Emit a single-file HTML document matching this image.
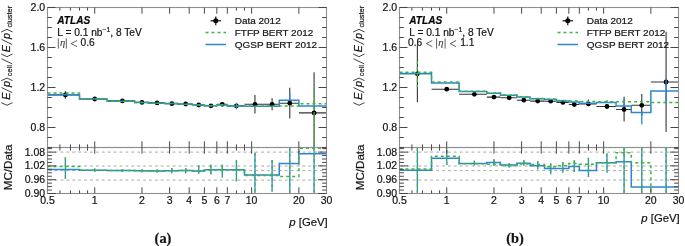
<!DOCTYPE html>
<html><head><meta charset="utf-8"><style>
html,body{margin:0;padding:0;background:#fff;}
body{width:685px;height:246px;overflow:hidden;font-family:"Liberation Sans",sans-serif;}
svg{display:block;will-change:transform;}
text{stroke:#222;stroke-width:0.22px;}
</style></head><body>
<svg width="685" height="246" viewBox="0 0 685 246" font-family="Liberation Sans, sans-serif">
<rect width="685" height="246" fill="#fff"/>
<clipPath id="cua"><rect x="47.5" y="7.5" width="279" height="140"/></clipPath>
<clipPath id="cla"><rect x="47.5" y="147.5" width="279" height="46"/></clipPath>
<line x1="47.5" y1="152.1" x2="326.5" y2="152.1" stroke="#aaa" stroke-width="1" stroke-dasharray="2.9 3" stroke-dashoffset="4.7"/>
<line x1="47.5" y1="166.0" x2="326.5" y2="166.0" stroke="#aaa" stroke-width="1" stroke-dasharray="2.9 3" stroke-dashoffset="4.7"/>
<line x1="47.5" y1="170.6" x2="326.5" y2="170.6" stroke="#aaa" stroke-width="1" stroke-dasharray="2.9 3" stroke-dashoffset="4.7"/>
<line x1="47.5" y1="180.1" x2="326.5" y2="180.1" stroke="#aaa" stroke-width="1" stroke-dasharray="2.9 3" stroke-dashoffset="4.7"/>
<g clip-path="url(#cua)" stroke="#353535" stroke-width="1.1"><line x1="47.5" y1="95" x2="79.53" y2="95"/><line x1="65.38" y1="91.1" x2="65.38" y2="98.7"/><line x1="79.53" y1="99" x2="107.16" y2="99"/><line x1="107.16" y1="100.9" x2="134.79" y2="100.9"/><line x1="134.79" y1="102.4" x2="148.46" y2="102.4"/><line x1="148.46" y1="102.9" x2="164.89" y2="102.9"/><line x1="164.89" y1="103.7" x2="178.12" y2="103.7"/><line x1="178.12" y1="104" x2="192.52" y2="104"/><line x1="192.52" y1="105" x2="204.4" y2="105"/><line x1="204.4" y1="105.8" x2="216.83" y2="105.8"/><line x1="216.83" y1="104.3" x2="227.33" y2="104.3"/><line x1="227.33" y1="105.9" x2="244.46" y2="105.9"/><line x1="244.46" y1="104.3" x2="264.06" y2="104.3"/><line x1="254.96" y1="95.1" x2="254.96" y2="113.6"/><line x1="264.06" y1="104.3" x2="279.27" y2="104.3"/><line x1="272.09" y1="98.3" x2="272.09" y2="110.2"/><line x1="279.27" y1="103.2" x2="298.87" y2="103.2"/><line x1="289.77" y1="87.7" x2="289.77" y2="118.4"/><line x1="298.87" y1="112.9" x2="326.5" y2="112.9"/><line x1="314.08" y1="72.3" x2="314.08" y2="147.3"/></g>
<g fill="#000"><circle cx="65.38" cy="95" r="2.4"/><circle cx="94.73" cy="99" r="2.4"/><circle cx="122.36" cy="100.9" r="2.4"/><circle cx="141.97" cy="102.4" r="2.4"/><circle cx="157.17" cy="102.9" r="2.4"/><circle cx="171.83" cy="103.7" r="2.4"/><circle cx="185.7" cy="104" r="2.4"/><circle cx="198.72" cy="105" r="2.4"/><circle cx="210.9" cy="105.8" r="2.4"/><circle cx="222.28" cy="104.3" r="2.4"/><circle cx="236.43" cy="105.9" r="2.4"/><circle cx="254.96" cy="104.3" r="2.4"/><circle cx="272.09" cy="104.3" r="2.4"/><circle cx="289.77" cy="103.2" r="2.4"/><circle cx="314.08" cy="112.9" r="2.4"/></g>
<g clip-path="url(#cua)" fill="none">
<path d="M47.5 94.7 L79.53 94.7 L79.53 99.1 L107.16 99.1 L107.16 101.2 L134.79 101.2 L134.79 102.5 L148.46 102.5 L148.46 103.2 L164.89 103.2 L164.89 103.5 L178.12 103.5 L178.12 104.2 L192.52 104.2 L192.52 105 L204.4 105 L204.4 105.7 L216.83 105.7 L216.83 105.1 L227.33 105.1 L227.33 106.1 L244.46 106.1 L244.46 106.2 L264.06 106.2 L264.06 106.3 L279.27 106.3 L279.27 100.3 L298.87 100.3 L298.87 106.1 L326.5 106.1" stroke="#2f86cf" stroke-width="1.5"/>
<line x1="236.43" y1="102.7" x2="236.43" y2="109.3" stroke="#2f86cf" stroke-width="1.3"/>
<line x1="289.77" y1="93.7" x2="289.77" y2="100.3" stroke="#2f86cf" stroke-width="1.3"/>
<path d="M47.5 92.9 L79.53 92.9 L79.53 99.1 L107.16 99.1 L107.16 101.2 L134.79 101.2 L134.79 102.5 L148.46 102.5 L148.46 103.2 L164.89 103.2 L164.89 103.5 L178.12 103.5 L178.12 104.2 L192.52 104.2 L192.52 105 L204.4 105 L204.4 105.7 L216.83 105.7 L216.83 105.1 L227.33 105.1 L227.33 106.1 L244.46 106.1 L244.46 106.2 L264.06 106.2 L264.06 105.9 L279.27 105.9 L279.27 105.9 L298.87 105.9 L298.87 103.7 L326.5 103.7" stroke="#3db53d" stroke-width="1.5" stroke-dasharray="3 3"/>
<line x1="314.08" y1="88.0" x2="314.08" y2="147.3" stroke="#3db53d" stroke-width="1.3" stroke-dasharray="3 3"/>
</g>
<g clip-path="url(#cla)" fill="none">
<path d="M47.5 169.6 L79.53 169.6 L79.53 170.3 L107.16 170.3 L107.16 170.4 L134.79 170.4 L134.79 170.8 L148.46 170.8 L148.46 171 L164.89 171 L164.89 170.8 L178.12 170.8 L178.12 170.6 L192.52 170.6 L192.52 171 L204.4 171 L204.4 169.8 L216.83 169.8 L216.83 169.8 L227.33 169.8 L227.33 169.8 L244.46 169.8 L244.46 175.1 L264.06 175.1 L264.06 175.1 L279.27 175.1 L279.27 163.4 L298.87 163.4 L298.87 153.8 L326.5 153.8" stroke="#2f86cf" stroke-width="1.5"/>
<line x1="65.38" y1="157.2" x2="65.38" y2="179.1" stroke="#2f86cf" stroke-width="1.3"/>
<line x1="94.73" y1="168.5" x2="94.73" y2="172.0" stroke="#2f86cf" stroke-width="1.3"/>
<line x1="122.36" y1="169.0" x2="122.36" y2="172.0" stroke="#2f86cf" stroke-width="1.3"/>
<line x1="141.97" y1="169.3" x2="141.97" y2="172.3" stroke="#2f86cf" stroke-width="1.3"/>
<line x1="157.17" y1="169.5" x2="157.17" y2="172.5" stroke="#2f86cf" stroke-width="1.3"/>
<line x1="171.83" y1="168.0" x2="171.83" y2="173.5" stroke="#2f86cf" stroke-width="1.3"/>
<line x1="185.7" y1="168.0" x2="185.7" y2="173.5" stroke="#2f86cf" stroke-width="1.3"/>
<line x1="198.72" y1="165.3" x2="198.72" y2="173.5" stroke="#2f86cf" stroke-width="1.3"/>
<line x1="210.9" y1="164.7" x2="210.9" y2="174.5" stroke="#2f86cf" stroke-width="1.3"/>
<line x1="222.28" y1="164.7" x2="222.28" y2="177.6" stroke="#2f86cf" stroke-width="1.3"/>
<line x1="236.43" y1="160.3" x2="236.43" y2="181.2" stroke="#2f86cf" stroke-width="1.3"/>
<line x1="254.96" y1="152.7" x2="254.96" y2="193.6" stroke="#2f86cf" stroke-width="1.3"/>
<line x1="272.09" y1="160.1" x2="272.09" y2="191.5" stroke="#2f86cf" stroke-width="1.3"/>
<line x1="289.77" y1="147.8" x2="289.77" y2="193.6" stroke="#2f86cf" stroke-width="1.3"/>
<line x1="314.08" y1="147.3" x2="314.08" y2="193.6" stroke="#2f86cf" stroke-width="1.3"/>
<path d="M47.5 166.4 L79.53 166.4 L79.53 170.3 L107.16 170.3 L107.16 170.4 L134.79 170.4 L134.79 170.8 L148.46 170.8 L148.46 171 L164.89 171 L164.89 170.8 L178.12 170.8 L178.12 170.6 L192.52 170.6 L192.52 171 L204.4 171 L204.4 169.8 L216.83 169.8 L216.83 169.8 L227.33 169.8 L227.33 169.8 L244.46 169.8 L244.46 175.4 L264.06 175.4 L264.06 175.4 L279.27 175.4 L279.27 176.5 L298.87 176.5 L298.87 148.3 L326.5 148.3" stroke="#3db53d" stroke-width="1.5" stroke-dasharray="3 3"/>
<line x1="65.38" y1="157.2" x2="65.38" y2="179.1" stroke="#3db53d" stroke-width="1.3" stroke-dasharray="3 3"/>
<line x1="94.73" y1="168.5" x2="94.73" y2="172.0" stroke="#3db53d" stroke-width="1.3" stroke-dasharray="3 3"/>
<line x1="122.36" y1="169.0" x2="122.36" y2="172.0" stroke="#3db53d" stroke-width="1.3" stroke-dasharray="3 3"/>
<line x1="141.97" y1="169.3" x2="141.97" y2="172.3" stroke="#3db53d" stroke-width="1.3" stroke-dasharray="3 3"/>
<line x1="157.17" y1="169.5" x2="157.17" y2="172.5" stroke="#3db53d" stroke-width="1.3" stroke-dasharray="3 3"/>
<line x1="171.83" y1="168.0" x2="171.83" y2="173.5" stroke="#3db53d" stroke-width="1.3" stroke-dasharray="3 3"/>
<line x1="185.7" y1="168.0" x2="185.7" y2="173.5" stroke="#3db53d" stroke-width="1.3" stroke-dasharray="3 3"/>
<line x1="198.72" y1="165.3" x2="198.72" y2="173.5" stroke="#3db53d" stroke-width="1.3" stroke-dasharray="3 3"/>
<line x1="210.9" y1="164.7" x2="210.9" y2="174.5" stroke="#3db53d" stroke-width="1.3" stroke-dasharray="3 3"/>
<line x1="222.28" y1="164.7" x2="222.28" y2="177.6" stroke="#3db53d" stroke-width="1.3" stroke-dasharray="3 3"/>
<line x1="236.43" y1="160.3" x2="236.43" y2="181.2" stroke="#3db53d" stroke-width="1.3" stroke-dasharray="3 3"/>
<line x1="254.96" y1="152.7" x2="254.96" y2="193.6" stroke="#3db53d" stroke-width="1.3" stroke-dasharray="3 3"/>
<line x1="272.09" y1="160.1" x2="272.09" y2="191.5" stroke="#3db53d" stroke-width="1.3" stroke-dasharray="3 3"/>
<line x1="289.77" y1="147.8" x2="289.77" y2="193.6" stroke="#3db53d" stroke-width="1.3" stroke-dasharray="3 3"/>
<line x1="314.08" y1="147.3" x2="314.08" y2="193.6" stroke="#3db53d" stroke-width="1.3" stroke-dasharray="3 3"/>
</g>
<g stroke="#8f8f8f" stroke-width="1.1" fill="none"><rect x="47.5" y="7.5" width="279" height="140"/><rect x="47.5" y="147.5" width="279" height="46"/></g>
<g stroke="#474747" stroke-width="1" fill="none"><line x1="94.73" y1="7.5" x2="94.73" y2="13.7"/><line x1="94.73" y1="147.5" x2="94.73" y2="141.3"/><line x1="94.73" y1="147.5" x2="94.73" y2="153.7"/><line x1="94.73" y1="193.5" x2="94.73" y2="187.3"/><line x1="141.97" y1="7.5" x2="141.97" y2="13.7"/><line x1="141.97" y1="147.5" x2="141.97" y2="141.3"/><line x1="141.97" y1="147.5" x2="141.97" y2="153.7"/><line x1="141.97" y1="193.5" x2="141.97" y2="187.3"/><line x1="169.6" y1="7.5" x2="169.6" y2="13.7"/><line x1="169.6" y1="147.5" x2="169.6" y2="141.3"/><line x1="169.6" y1="147.5" x2="169.6" y2="153.7"/><line x1="169.6" y1="193.5" x2="169.6" y2="187.3"/><line x1="189.2" y1="7.5" x2="189.2" y2="13.7"/><line x1="189.2" y1="147.5" x2="189.2" y2="141.3"/><line x1="189.2" y1="147.5" x2="189.2" y2="153.7"/><line x1="189.2" y1="193.5" x2="189.2" y2="187.3"/><line x1="204.4" y1="7.5" x2="204.4" y2="13.7"/><line x1="204.4" y1="147.5" x2="204.4" y2="141.3"/><line x1="204.4" y1="147.5" x2="204.4" y2="153.7"/><line x1="204.4" y1="193.5" x2="204.4" y2="187.3"/><line x1="216.83" y1="7.5" x2="216.83" y2="13.7"/><line x1="216.83" y1="147.5" x2="216.83" y2="141.3"/><line x1="216.83" y1="147.5" x2="216.83" y2="153.7"/><line x1="216.83" y1="193.5" x2="216.83" y2="187.3"/><line x1="227.33" y1="7.5" x2="227.33" y2="13.7"/><line x1="227.33" y1="147.5" x2="227.33" y2="141.3"/><line x1="227.33" y1="147.5" x2="227.33" y2="153.7"/><line x1="227.33" y1="193.5" x2="227.33" y2="187.3"/><line x1="251.64" y1="7.5" x2="251.64" y2="13.7"/><line x1="251.64" y1="147.5" x2="251.64" y2="141.3"/><line x1="251.64" y1="147.5" x2="251.64" y2="153.7"/><line x1="251.64" y1="193.5" x2="251.64" y2="187.3"/><line x1="298.87" y1="7.5" x2="298.87" y2="13.7"/><line x1="298.87" y1="147.5" x2="298.87" y2="141.3"/><line x1="298.87" y1="147.5" x2="298.87" y2="153.7"/><line x1="298.87" y1="193.5" x2="298.87" y2="187.3"/><line x1="59.92" y1="7.5" x2="59.92" y2="10.6"/><line x1="59.92" y1="147.5" x2="59.92" y2="144.4"/><line x1="59.92" y1="147.5" x2="59.92" y2="150.6"/><line x1="59.92" y1="193.5" x2="59.92" y2="190.4"/><line x1="70.43" y1="7.5" x2="70.43" y2="10.6"/><line x1="70.43" y1="147.5" x2="70.43" y2="144.4"/><line x1="70.43" y1="147.5" x2="70.43" y2="150.6"/><line x1="70.43" y1="193.5" x2="70.43" y2="190.4"/><line x1="79.53" y1="7.5" x2="79.53" y2="10.6"/><line x1="79.53" y1="147.5" x2="79.53" y2="144.4"/><line x1="79.53" y1="147.5" x2="79.53" y2="150.6"/><line x1="79.53" y1="193.5" x2="79.53" y2="190.4"/><line x1="87.55" y1="7.5" x2="87.55" y2="10.6"/><line x1="87.55" y1="147.5" x2="87.55" y2="144.4"/><line x1="87.55" y1="147.5" x2="87.55" y2="150.6"/><line x1="87.55" y1="193.5" x2="87.55" y2="190.4"/><line x1="236.43" y1="7.5" x2="236.43" y2="10.6"/><line x1="236.43" y1="147.5" x2="236.43" y2="144.4"/><line x1="236.43" y1="147.5" x2="236.43" y2="150.6"/><line x1="236.43" y1="193.5" x2="236.43" y2="190.4"/><line x1="244.46" y1="7.5" x2="244.46" y2="10.6"/><line x1="244.46" y1="147.5" x2="244.46" y2="144.4"/><line x1="244.46" y1="147.5" x2="244.46" y2="150.6"/><line x1="244.46" y1="193.5" x2="244.46" y2="190.4"/><line x1="47.5" y1="7.5" x2="55.5" y2="7.5"/><line x1="326.5" y1="7.5" x2="318.5" y2="7.5"/><line x1="47.5" y1="17.5" x2="51.8" y2="17.5"/><line x1="326.5" y1="17.5" x2="322.2" y2="17.5"/><line x1="47.5" y1="27.5" x2="51.8" y2="27.5"/><line x1="326.5" y1="27.5" x2="322.2" y2="27.5"/><line x1="47.5" y1="37.5" x2="51.8" y2="37.5"/><line x1="326.5" y1="37.5" x2="322.2" y2="37.5"/><line x1="47.5" y1="47.5" x2="55.5" y2="47.5"/><line x1="326.5" y1="47.5" x2="318.5" y2="47.5"/><line x1="47.5" y1="57.5" x2="51.8" y2="57.5"/><line x1="326.5" y1="57.5" x2="322.2" y2="57.5"/><line x1="47.5" y1="67.5" x2="51.8" y2="67.5"/><line x1="326.5" y1="67.5" x2="322.2" y2="67.5"/><line x1="47.5" y1="77.5" x2="51.8" y2="77.5"/><line x1="326.5" y1="77.5" x2="322.2" y2="77.5"/><line x1="47.5" y1="87.5" x2="55.5" y2="87.5"/><line x1="326.5" y1="87.5" x2="318.5" y2="87.5"/><line x1="47.5" y1="97.5" x2="51.8" y2="97.5"/><line x1="326.5" y1="97.5" x2="322.2" y2="97.5"/><line x1="47.5" y1="107.5" x2="51.8" y2="107.5"/><line x1="326.5" y1="107.5" x2="322.2" y2="107.5"/><line x1="47.5" y1="117.5" x2="51.8" y2="117.5"/><line x1="326.5" y1="117.5" x2="322.2" y2="117.5"/><line x1="47.5" y1="127.5" x2="55.5" y2="127.5"/><line x1="326.5" y1="127.5" x2="318.5" y2="127.5"/><line x1="47.5" y1="137.5" x2="51.8" y2="137.5"/><line x1="326.5" y1="137.5" x2="322.2" y2="137.5"/><line x1="47.5" y1="147.5" x2="51.8" y2="147.5"/><line x1="326.5" y1="147.5" x2="322.2" y2="147.5"/><line x1="47.5" y1="193.5" x2="56" y2="193.5"/><line x1="326.5" y1="193.5" x2="318" y2="193.5"/><line x1="47.5" y1="190.05" x2="51.9" y2="190.05"/><line x1="326.5" y1="190.05" x2="322.1" y2="190.05"/><line x1="47.5" y1="186.6" x2="51.9" y2="186.6"/><line x1="326.5" y1="186.6" x2="322.1" y2="186.6"/><line x1="47.5" y1="183.15" x2="51.9" y2="183.15"/><line x1="326.5" y1="183.15" x2="322.1" y2="183.15"/><line x1="47.5" y1="179.7" x2="56" y2="179.7"/><line x1="326.5" y1="179.7" x2="318" y2="179.7"/><line x1="47.5" y1="176.25" x2="51.9" y2="176.25"/><line x1="326.5" y1="176.25" x2="322.1" y2="176.25"/><line x1="47.5" y1="172.8" x2="51.9" y2="172.8"/><line x1="326.5" y1="172.8" x2="322.1" y2="172.8"/><line x1="47.5" y1="169.35" x2="51.9" y2="169.35"/><line x1="326.5" y1="169.35" x2="322.1" y2="169.35"/><line x1="47.5" y1="165.9" x2="56" y2="165.9"/><line x1="326.5" y1="165.9" x2="318" y2="165.9"/><line x1="47.5" y1="162.45" x2="51.9" y2="162.45"/><line x1="326.5" y1="162.45" x2="322.1" y2="162.45"/><line x1="47.5" y1="159" x2="51.9" y2="159"/><line x1="326.5" y1="159" x2="322.1" y2="159"/><line x1="47.5" y1="155.55" x2="51.9" y2="155.55"/><line x1="326.5" y1="155.55" x2="322.1" y2="155.55"/><line x1="47.5" y1="152.1" x2="56" y2="152.1"/><line x1="326.5" y1="152.1" x2="318" y2="152.1"/><line x1="47.5" y1="148.65" x2="51.9" y2="148.65"/><line x1="326.5" y1="148.65" x2="322.1" y2="148.65"/></g>
<g font-size="10.5" fill="#111"><text x="45.2" y="10.9" text-anchor="end">2.0</text><text x="45.2" y="50.9" text-anchor="end">1.6</text><text x="45.2" y="90.9" text-anchor="end">1.2</text><text x="45.2" y="130.9" text-anchor="end">0.8</text><text x="45.2" y="155.5" text-anchor="end">1.08</text><text x="45.2" y="169.3" text-anchor="end">1.02</text><text x="45.2" y="183.1" text-anchor="end">0.96</text><text x="45.2" y="196.9" text-anchor="end">0.90</text><text x="47.5" y="203.6" text-anchor="middle">0.5</text><text x="94.73" y="203.6" text-anchor="middle">1</text><text x="141.97" y="203.6" text-anchor="middle">2</text><text x="169.6" y="203.6" text-anchor="middle">3</text><text x="189.2" y="203.6" text-anchor="middle">4</text><text x="204.4" y="203.6" text-anchor="middle">5</text><text x="216.83" y="203.6" text-anchor="middle">6</text><text x="227.33" y="203.6" text-anchor="middle">7</text><text x="251.64" y="203.6" text-anchor="middle">10</text><text x="298.87" y="203.6" text-anchor="middle">20</text><text x="326.5" y="203.6" text-anchor="middle">30</text></g>
<text x="327.7" y="225.9" text-anchor="end" font-size="11.3" fill="#111"><tspan font-style="italic">p</tspan> [GeV]</text>
<text x="57.3" y="24.1" font-size="10.1" font-weight="bold" font-style="italic" fill="#000">ATLAS</text>
<text x="57.3" y="35.6" font-size="10.2" fill="#111">L = 0.1 nb<tspan font-size="6.8" dy="-3.6">−1</tspan><tspan dy="3.6">, 8 TeV</tspan></text>
<line x1="58.3" y1="38.4" x2="58.3" y2="48.6" stroke="#444" stroke-width="0.85"/>
<text x="59.9" y="46.4" font-size="10.6" font-family="Liberation Serif, serif" font-style="italic" fill="#444" style="stroke-width:0.1px">η</text>
<line x1="66.3" y1="38.4" x2="66.3" y2="48.6" stroke="#444" stroke-width="0.85"/>
<path d="M77.1 40.5 L71.1 43.6 L77.1 46.7" fill="none" stroke="#555" stroke-width="0.95"/>
<text x="80.5" y="46.3" font-size="10.2" fill="#111">0.6</text>
<line x1="210.5" y1="20.8" x2="221" y2="20.8" stroke="#000" stroke-width="1.1"/>
<line x1="215.8" y1="16.6" x2="215.8" y2="25.2" stroke="#000" stroke-width="1.1"/>
<circle cx="215.8" cy="20.8" r="2.5" fill="#000"/>
<line x1="205.5" y1="32.5" x2="226" y2="32.5" stroke="#3db53d" stroke-width="1.5" stroke-dasharray="3 3"/>
<line x1="205.5" y1="44.5" x2="226" y2="44.5" stroke="#2f86cf" stroke-width="1.5"/>
<g font-size="9.95" fill="#111"><text x="234.8" y="24.2">Data 2012</text><text x="234.8" y="36">FTFP BERT 2012</text><text x="234.8" y="47.8">QGSP BERT 2012</text></g>
<g transform="translate(10.6,105.6) rotate(-90)" fill="#111" font-size="10.8">
<g fill="none" stroke="#111" stroke-width="0.8">
<path d="M3 -9.4 L0.3 -3.6 L3 2.0"/>
<path d="M13 1.6 L18.1 -9.1"/>
<path d="M24.9 -9.4 L27.6 -3.6 L24.9 2.0"/>
<path d="M41.7 1.6 L46.8 -9.1"/>
<path d="M51.6 -9.4 L48.9 -3.6 L51.6 2.0"/>
<path d="M61 1.6 L66.3 -9.1"/>
<path d="M73.6 -9.4 L76.3 -3.6 L73.6 2.0"/>
</g>
<text x="5.9" y="-0.4" font-style="italic">E</text>
<text x="18.6" y="-0.4" font-style="italic">p</text>
<text x="29.4" y="1.6" font-size="7.4">cell</text>
<text x="53.4" y="-0.4" font-style="italic">E</text>
<text x="66.6" y="-0.4" font-style="italic">p</text>
<text x="78" y="1.6" font-size="7.4">cluster</text>
</g>
<text transform="translate(11.6,190.2) rotate(-90)" font-size="11.6" fill="#111">MC/Data</text>
<clipPath id="cub"><rect x="399.5" y="7.5" width="279" height="140"/></clipPath>
<clipPath id="clb"><rect x="399.5" y="147.5" width="279" height="46"/></clipPath>
<line x1="399.5" y1="152.1" x2="678.5" y2="152.1" stroke="#aaa" stroke-width="1" stroke-dasharray="2.9 3" stroke-dashoffset="4.7"/>
<line x1="399.5" y1="166.0" x2="678.5" y2="166.0" stroke="#aaa" stroke-width="1" stroke-dasharray="2.9 3" stroke-dashoffset="4.7"/>
<line x1="399.5" y1="170.6" x2="678.5" y2="170.6" stroke="#aaa" stroke-width="1" stroke-dasharray="2.9 3" stroke-dashoffset="4.7"/>
<line x1="399.5" y1="180.1" x2="678.5" y2="180.1" stroke="#aaa" stroke-width="1" stroke-dasharray="2.9 3" stroke-dashoffset="4.7"/>
<g clip-path="url(#cub)" stroke="#353535" stroke-width="1.1"><line x1="399.5" y1="73.8" x2="431.53" y2="73.8"/><line x1="417.38" y1="44.6" x2="417.38" y2="102.2"/><line x1="431.53" y1="89.2" x2="459.16" y2="89.2"/><line x1="459.16" y1="94.3" x2="486.79" y2="94.3"/><line x1="486.79" y1="97.1" x2="500.46" y2="97.1"/><line x1="500.46" y1="97.8" x2="516.89" y2="97.8"/><line x1="516.89" y1="100.2" x2="530.12" y2="100.2"/><line x1="530.12" y1="101.1" x2="544.52" y2="101.1"/><line x1="544.52" y1="101.2" x2="556.4" y2="101.2"/><line x1="556.4" y1="102.4" x2="568.83" y2="102.4"/><line x1="568.83" y1="104.5" x2="579.33" y2="104.5"/><line x1="579.33" y1="103.9" x2="596.46" y2="103.9"/><line x1="588.43" y1="99.6" x2="588.43" y2="106.3"/><line x1="596.46" y1="106.5" x2="616.06" y2="106.5"/><line x1="616.06" y1="109.5" x2="631.27" y2="109.5"/><line x1="624.09" y1="96.7" x2="624.09" y2="121.6"/><line x1="631.27" y1="105.3" x2="650.87" y2="105.3"/><line x1="641.77" y1="93.9" x2="641.77" y2="116"/><line x1="650.87" y1="82" x2="678.5" y2="82"/><line x1="666.08" y1="31.7" x2="666.08" y2="132"/></g>
<g fill="#000"><circle cx="417.38" cy="73.8" r="2.4"/><circle cx="446.73" cy="89.2" r="2.4"/><circle cx="474.36" cy="94.3" r="2.4"/><circle cx="493.97" cy="97.1" r="2.4"/><circle cx="509.17" cy="97.8" r="2.4"/><circle cx="523.83" cy="100.2" r="2.4"/><circle cx="537.7" cy="101.1" r="2.4"/><circle cx="550.72" cy="101.2" r="2.4"/><circle cx="562.9" cy="102.4" r="2.4"/><circle cx="574.28" cy="104.5" r="2.4"/><circle cx="588.43" cy="103.9" r="2.4"/><circle cx="606.96" cy="106.5" r="2.4"/><circle cx="624.09" cy="109.5" r="2.4"/><circle cx="641.77" cy="105.3" r="2.4"/><circle cx="666.08" cy="82" r="2.4"/></g>
<g clip-path="url(#cub)" fill="none">
<path d="M399.5 73.4 L431.53 73.4 L431.53 82.9 L459.16 82.9 L459.16 91.4 L486.79 91.4 L486.79 93.2 L500.46 93.2 L500.46 95.2 L516.89 95.2 L516.89 96.9 L530.12 96.9 L530.12 98.7 L544.52 98.7 L544.52 99.6 L556.4 99.6 L556.4 100.9 L568.83 100.9 L568.83 102.1 L579.33 102.1 L579.33 103.3 L596.46 103.3 L596.46 102.6 L616.06 102.6 L616.06 106.1 L631.27 106.1 L631.27 112.6 L650.87 112.6 L650.87 91 L678.5 91" stroke="#2f86cf" stroke-width="1.5"/>
<line x1="606.96" y1="100.0" x2="606.96" y2="102.6" stroke="#2f86cf" stroke-width="1.3"/>
<line x1="624.09" y1="98.8" x2="624.09" y2="106.1" stroke="#2f86cf" stroke-width="1.3"/>
<line x1="641.77" y1="112.6" x2="641.77" y2="124.5" stroke="#2f86cf" stroke-width="1.3"/>
<line x1="666.08" y1="77.9" x2="666.08" y2="104.0" stroke="#2f86cf" stroke-width="1.3"/>
<path d="M399.5 72.3 L431.53 72.3 L431.53 82.1 L459.16 82.1 L459.16 91.2 L486.79 91.2 L486.79 93 L500.46 93 L500.46 95 L516.89 95 L516.89 96.7 L530.12 96.7 L530.12 98.5 L544.52 98.5 L544.52 98.9 L556.4 98.9 L556.4 100.6 L568.83 100.6 L568.83 100.9 L579.33 100.9 L579.33 101.5 L596.46 101.5 L596.46 101.7 L616.06 101.7 L616.06 101.7 L631.27 101.7 L631.27 101.7 L650.87 101.7 L650.87 102.5 L678.5 102.5" stroke="#3db53d" stroke-width="1.5" stroke-dasharray="3 3"/>
<line x1="417.38" y1="61.0" x2="417.38" y2="87.0" stroke="#3db53d" stroke-width="1.3" stroke-dasharray="3 3"/>
</g>
<g clip-path="url(#clb)" fill="none">
<path d="M399.5 170.2 L431.53 170.2 L431.53 158.3 L459.16 158.3 L459.16 163.5 L486.79 163.5 L486.79 162.5 L500.46 162.5 L500.46 165 L516.89 165 L516.89 163.2 L530.12 163.2 L530.12 165.7 L544.52 165.7 L544.52 168.5 L556.4 168.5 L556.4 168.5 L568.83 168.5 L568.83 166.4 L579.33 166.4 L579.33 170.4 L596.46 170.4 L596.46 162.8 L616.06 162.8 L616.06 161.7 L631.27 161.7 L631.27 186.9 L650.87 186.9 L650.87 186.9 L678.5 186.9" stroke="#2f86cf" stroke-width="1.5"/>
<line x1="417.38" y1="147.8" x2="417.38" y2="193.6" stroke="#2f86cf" stroke-width="1.3"/>
<line x1="446.73" y1="150.0" x2="446.73" y2="165.0" stroke="#2f86cf" stroke-width="1.3"/>
<line x1="474.36" y1="160.7" x2="474.36" y2="165.4" stroke="#2f86cf" stroke-width="1.3"/>
<line x1="493.97" y1="159.3" x2="493.97" y2="165.7" stroke="#2f86cf" stroke-width="1.3"/>
<line x1="509.17" y1="163.1" x2="509.17" y2="167.8" stroke="#2f86cf" stroke-width="1.3"/>
<line x1="523.83" y1="160.2" x2="523.83" y2="165.7" stroke="#2f86cf" stroke-width="1.3"/>
<line x1="537.7" y1="161.1" x2="537.7" y2="169.2" stroke="#2f86cf" stroke-width="1.3"/>
<line x1="550.72" y1="163.5" x2="550.72" y2="174.2" stroke="#2f86cf" stroke-width="1.3"/>
<line x1="562.9" y1="162.1" x2="562.9" y2="172.8" stroke="#2f86cf" stroke-width="1.3"/>
<line x1="574.28" y1="160.2" x2="574.28" y2="172.1" stroke="#2f86cf" stroke-width="1.3"/>
<line x1="588.43" y1="157.8" x2="588.43" y2="177.0" stroke="#2f86cf" stroke-width="1.3"/>
<line x1="606.96" y1="153.4" x2="606.96" y2="172.4" stroke="#2f86cf" stroke-width="1.3"/>
<line x1="624.09" y1="147.8" x2="624.09" y2="193.6" stroke="#2f86cf" stroke-width="1.3"/>
<line x1="641.77" y1="147.8" x2="641.77" y2="193.6" stroke="#2f86cf" stroke-width="1.3"/>
<line x1="666.08" y1="147.8" x2="666.08" y2="193.6" stroke="#2f86cf" stroke-width="1.3"/>
<path d="M399.5 169 L431.53 169 L431.53 156.3 L459.16 156.3 L459.16 163.8 L486.79 163.8 L486.79 164.2 L500.46 164.2 L500.46 165.7 L516.89 165.7 L516.89 164 L530.12 164 L530.12 164.5 L544.52 164.5 L544.52 166.8 L556.4 166.8 L556.4 165.7 L568.83 165.7 L568.83 163.5 L579.33 163.5 L579.33 164.2 L596.46 164.2 L596.46 162.8 L616.06 162.8 L616.06 152.7 L631.27 152.7 L631.27 162.8 L650.87 162.8 L650.87 200 L678.5 200" stroke="#3db53d" stroke-width="1.5" stroke-dasharray="3 3"/>
<line x1="417.38" y1="147.8" x2="417.38" y2="193.6" stroke="#3db53d" stroke-width="1.3" stroke-dasharray="3 3"/>
<line x1="446.73" y1="150.0" x2="446.73" y2="165.0" stroke="#3db53d" stroke-width="1.3" stroke-dasharray="3 3"/>
<line x1="474.36" y1="160.7" x2="474.36" y2="165.4" stroke="#3db53d" stroke-width="1.3" stroke-dasharray="3 3"/>
<line x1="493.97" y1="159.3" x2="493.97" y2="165.7" stroke="#3db53d" stroke-width="1.3" stroke-dasharray="3 3"/>
<line x1="509.17" y1="163.1" x2="509.17" y2="167.8" stroke="#3db53d" stroke-width="1.3" stroke-dasharray="3 3"/>
<line x1="523.83" y1="160.2" x2="523.83" y2="165.7" stroke="#3db53d" stroke-width="1.3" stroke-dasharray="3 3"/>
<line x1="537.7" y1="161.1" x2="537.7" y2="169.2" stroke="#3db53d" stroke-width="1.3" stroke-dasharray="3 3"/>
<line x1="550.72" y1="163.5" x2="550.72" y2="174.2" stroke="#3db53d" stroke-width="1.3" stroke-dasharray="3 3"/>
<line x1="562.9" y1="162.1" x2="562.9" y2="172.8" stroke="#3db53d" stroke-width="1.3" stroke-dasharray="3 3"/>
<line x1="574.28" y1="160.2" x2="574.28" y2="172.1" stroke="#3db53d" stroke-width="1.3" stroke-dasharray="3 3"/>
<line x1="588.43" y1="157.8" x2="588.43" y2="177.0" stroke="#3db53d" stroke-width="1.3" stroke-dasharray="3 3"/>
<line x1="606.96" y1="153.4" x2="606.96" y2="172.4" stroke="#3db53d" stroke-width="1.3" stroke-dasharray="3 3"/>
<line x1="624.09" y1="147.8" x2="624.09" y2="193.6" stroke="#3db53d" stroke-width="1.3" stroke-dasharray="3 3"/>
<line x1="641.77" y1="147.8" x2="641.77" y2="193.6" stroke="#3db53d" stroke-width="1.3" stroke-dasharray="3 3"/>
<line x1="666.08" y1="147.8" x2="666.08" y2="193.6" stroke="#3db53d" stroke-width="1.3" stroke-dasharray="3 3"/>
</g>
<g stroke="#8f8f8f" stroke-width="1.1" fill="none"><rect x="399.5" y="7.5" width="279" height="140"/><rect x="399.5" y="147.5" width="279" height="46"/></g>
<g stroke="#474747" stroke-width="1" fill="none"><line x1="446.73" y1="7.5" x2="446.73" y2="13.7"/><line x1="446.73" y1="147.5" x2="446.73" y2="141.3"/><line x1="446.73" y1="147.5" x2="446.73" y2="153.7"/><line x1="446.73" y1="193.5" x2="446.73" y2="187.3"/><line x1="493.97" y1="7.5" x2="493.97" y2="13.7"/><line x1="493.97" y1="147.5" x2="493.97" y2="141.3"/><line x1="493.97" y1="147.5" x2="493.97" y2="153.7"/><line x1="493.97" y1="193.5" x2="493.97" y2="187.3"/><line x1="521.6" y1="7.5" x2="521.6" y2="13.7"/><line x1="521.6" y1="147.5" x2="521.6" y2="141.3"/><line x1="521.6" y1="147.5" x2="521.6" y2="153.7"/><line x1="521.6" y1="193.5" x2="521.6" y2="187.3"/><line x1="541.2" y1="7.5" x2="541.2" y2="13.7"/><line x1="541.2" y1="147.5" x2="541.2" y2="141.3"/><line x1="541.2" y1="147.5" x2="541.2" y2="153.7"/><line x1="541.2" y1="193.5" x2="541.2" y2="187.3"/><line x1="556.4" y1="7.5" x2="556.4" y2="13.7"/><line x1="556.4" y1="147.5" x2="556.4" y2="141.3"/><line x1="556.4" y1="147.5" x2="556.4" y2="153.7"/><line x1="556.4" y1="193.5" x2="556.4" y2="187.3"/><line x1="568.83" y1="7.5" x2="568.83" y2="13.7"/><line x1="568.83" y1="147.5" x2="568.83" y2="141.3"/><line x1="568.83" y1="147.5" x2="568.83" y2="153.7"/><line x1="568.83" y1="193.5" x2="568.83" y2="187.3"/><line x1="579.33" y1="7.5" x2="579.33" y2="13.7"/><line x1="579.33" y1="147.5" x2="579.33" y2="141.3"/><line x1="579.33" y1="147.5" x2="579.33" y2="153.7"/><line x1="579.33" y1="193.5" x2="579.33" y2="187.3"/><line x1="603.64" y1="7.5" x2="603.64" y2="13.7"/><line x1="603.64" y1="147.5" x2="603.64" y2="141.3"/><line x1="603.64" y1="147.5" x2="603.64" y2="153.7"/><line x1="603.64" y1="193.5" x2="603.64" y2="187.3"/><line x1="650.87" y1="7.5" x2="650.87" y2="13.7"/><line x1="650.87" y1="147.5" x2="650.87" y2="141.3"/><line x1="650.87" y1="147.5" x2="650.87" y2="153.7"/><line x1="650.87" y1="193.5" x2="650.87" y2="187.3"/><line x1="411.92" y1="7.5" x2="411.92" y2="10.6"/><line x1="411.92" y1="147.5" x2="411.92" y2="144.4"/><line x1="411.92" y1="147.5" x2="411.92" y2="150.6"/><line x1="411.92" y1="193.5" x2="411.92" y2="190.4"/><line x1="422.43" y1="7.5" x2="422.43" y2="10.6"/><line x1="422.43" y1="147.5" x2="422.43" y2="144.4"/><line x1="422.43" y1="147.5" x2="422.43" y2="150.6"/><line x1="422.43" y1="193.5" x2="422.43" y2="190.4"/><line x1="431.53" y1="7.5" x2="431.53" y2="10.6"/><line x1="431.53" y1="147.5" x2="431.53" y2="144.4"/><line x1="431.53" y1="147.5" x2="431.53" y2="150.6"/><line x1="431.53" y1="193.5" x2="431.53" y2="190.4"/><line x1="439.55" y1="7.5" x2="439.55" y2="10.6"/><line x1="439.55" y1="147.5" x2="439.55" y2="144.4"/><line x1="439.55" y1="147.5" x2="439.55" y2="150.6"/><line x1="439.55" y1="193.5" x2="439.55" y2="190.4"/><line x1="588.43" y1="7.5" x2="588.43" y2="10.6"/><line x1="588.43" y1="147.5" x2="588.43" y2="144.4"/><line x1="588.43" y1="147.5" x2="588.43" y2="150.6"/><line x1="588.43" y1="193.5" x2="588.43" y2="190.4"/><line x1="596.46" y1="7.5" x2="596.46" y2="10.6"/><line x1="596.46" y1="147.5" x2="596.46" y2="144.4"/><line x1="596.46" y1="147.5" x2="596.46" y2="150.6"/><line x1="596.46" y1="193.5" x2="596.46" y2="190.4"/><line x1="399.5" y1="7.5" x2="407.5" y2="7.5"/><line x1="678.5" y1="7.5" x2="670.5" y2="7.5"/><line x1="399.5" y1="17.5" x2="403.8" y2="17.5"/><line x1="678.5" y1="17.5" x2="674.2" y2="17.5"/><line x1="399.5" y1="27.5" x2="403.8" y2="27.5"/><line x1="678.5" y1="27.5" x2="674.2" y2="27.5"/><line x1="399.5" y1="37.5" x2="403.8" y2="37.5"/><line x1="678.5" y1="37.5" x2="674.2" y2="37.5"/><line x1="399.5" y1="47.5" x2="407.5" y2="47.5"/><line x1="678.5" y1="47.5" x2="670.5" y2="47.5"/><line x1="399.5" y1="57.5" x2="403.8" y2="57.5"/><line x1="678.5" y1="57.5" x2="674.2" y2="57.5"/><line x1="399.5" y1="67.5" x2="403.8" y2="67.5"/><line x1="678.5" y1="67.5" x2="674.2" y2="67.5"/><line x1="399.5" y1="77.5" x2="403.8" y2="77.5"/><line x1="678.5" y1="77.5" x2="674.2" y2="77.5"/><line x1="399.5" y1="87.5" x2="407.5" y2="87.5"/><line x1="678.5" y1="87.5" x2="670.5" y2="87.5"/><line x1="399.5" y1="97.5" x2="403.8" y2="97.5"/><line x1="678.5" y1="97.5" x2="674.2" y2="97.5"/><line x1="399.5" y1="107.5" x2="403.8" y2="107.5"/><line x1="678.5" y1="107.5" x2="674.2" y2="107.5"/><line x1="399.5" y1="117.5" x2="403.8" y2="117.5"/><line x1="678.5" y1="117.5" x2="674.2" y2="117.5"/><line x1="399.5" y1="127.5" x2="407.5" y2="127.5"/><line x1="678.5" y1="127.5" x2="670.5" y2="127.5"/><line x1="399.5" y1="137.5" x2="403.8" y2="137.5"/><line x1="678.5" y1="137.5" x2="674.2" y2="137.5"/><line x1="399.5" y1="147.5" x2="403.8" y2="147.5"/><line x1="678.5" y1="147.5" x2="674.2" y2="147.5"/><line x1="399.5" y1="193.5" x2="408" y2="193.5"/><line x1="678.5" y1="193.5" x2="670" y2="193.5"/><line x1="399.5" y1="190.05" x2="403.9" y2="190.05"/><line x1="678.5" y1="190.05" x2="674.1" y2="190.05"/><line x1="399.5" y1="186.6" x2="403.9" y2="186.6"/><line x1="678.5" y1="186.6" x2="674.1" y2="186.6"/><line x1="399.5" y1="183.15" x2="403.9" y2="183.15"/><line x1="678.5" y1="183.15" x2="674.1" y2="183.15"/><line x1="399.5" y1="179.7" x2="408" y2="179.7"/><line x1="678.5" y1="179.7" x2="670" y2="179.7"/><line x1="399.5" y1="176.25" x2="403.9" y2="176.25"/><line x1="678.5" y1="176.25" x2="674.1" y2="176.25"/><line x1="399.5" y1="172.8" x2="403.9" y2="172.8"/><line x1="678.5" y1="172.8" x2="674.1" y2="172.8"/><line x1="399.5" y1="169.35" x2="403.9" y2="169.35"/><line x1="678.5" y1="169.35" x2="674.1" y2="169.35"/><line x1="399.5" y1="165.9" x2="408" y2="165.9"/><line x1="678.5" y1="165.9" x2="670" y2="165.9"/><line x1="399.5" y1="162.45" x2="403.9" y2="162.45"/><line x1="678.5" y1="162.45" x2="674.1" y2="162.45"/><line x1="399.5" y1="159" x2="403.9" y2="159"/><line x1="678.5" y1="159" x2="674.1" y2="159"/><line x1="399.5" y1="155.55" x2="403.9" y2="155.55"/><line x1="678.5" y1="155.55" x2="674.1" y2="155.55"/><line x1="399.5" y1="152.1" x2="408" y2="152.1"/><line x1="678.5" y1="152.1" x2="670" y2="152.1"/><line x1="399.5" y1="148.65" x2="403.9" y2="148.65"/><line x1="678.5" y1="148.65" x2="674.1" y2="148.65"/></g>
<g font-size="10.5" fill="#111"><text x="397.2" y="10.9" text-anchor="end">2.0</text><text x="397.2" y="50.9" text-anchor="end">1.6</text><text x="397.2" y="90.9" text-anchor="end">1.2</text><text x="397.2" y="130.9" text-anchor="end">0.8</text><text x="397.2" y="155.5" text-anchor="end">1.08</text><text x="397.2" y="169.3" text-anchor="end">1.02</text><text x="397.2" y="183.1" text-anchor="end">0.96</text><text x="397.2" y="196.9" text-anchor="end">0.90</text><text x="399.5" y="203.6" text-anchor="middle">0.5</text><text x="446.73" y="203.6" text-anchor="middle">1</text><text x="493.97" y="203.6" text-anchor="middle">2</text><text x="521.6" y="203.6" text-anchor="middle">3</text><text x="541.2" y="203.6" text-anchor="middle">4</text><text x="556.4" y="203.6" text-anchor="middle">5</text><text x="568.83" y="203.6" text-anchor="middle">6</text><text x="579.33" y="203.6" text-anchor="middle">7</text><text x="603.64" y="203.6" text-anchor="middle">10</text><text x="650.87" y="203.6" text-anchor="middle">20</text><text x="678.5" y="203.6" text-anchor="middle">30</text></g>
<text x="679.7" y="221.8" text-anchor="end" font-size="11.3" fill="#111"><tspan font-style="italic">p</tspan> [GeV]</text>
<text x="409.3" y="24.1" font-size="10.1" font-weight="bold" font-style="italic" fill="#000">ATLAS</text>
<text x="409.3" y="35.6" font-size="10.2" fill="#111">L = 0.1 nb<tspan font-size="6.8" dy="-3.6">−1</tspan><tspan dy="3.6">, 8 TeV</tspan></text>
<text x="408.1" y="46.3" font-size="10.2" fill="#111">0.6</text>
<path d="M432.3 40.5 L426.3 43.6 L432.3 46.7" fill="none" stroke="#555" stroke-width="0.95"/>
<line x1="436.6" y1="38.4" x2="436.6" y2="48.6" stroke="#444" stroke-width="0.85"/>
<text x="438.3" y="46.4" font-size="10.6" font-family="Liberation Serif, serif" font-style="italic" fill="#444" style="stroke-width:0.1px">η</text>
<line x1="445.1" y1="38.4" x2="445.1" y2="48.6" stroke="#444" stroke-width="0.85"/>
<path d="M456.1 40.5 L450.1 43.6 L456.1 46.7" fill="none" stroke="#555" stroke-width="0.95"/>
<text x="460.2" y="46.3" font-size="10.2" fill="#111">1.1</text>
<line x1="562.5" y1="20.8" x2="573" y2="20.8" stroke="#000" stroke-width="1.1"/>
<line x1="567.8" y1="16.6" x2="567.8" y2="25.2" stroke="#000" stroke-width="1.1"/>
<circle cx="567.8" cy="20.8" r="2.5" fill="#000"/>
<line x1="557.5" y1="32.5" x2="578" y2="32.5" stroke="#3db53d" stroke-width="1.5" stroke-dasharray="3 3"/>
<line x1="557.5" y1="44.5" x2="578" y2="44.5" stroke="#2f86cf" stroke-width="1.5"/>
<g font-size="9.95" fill="#111"><text x="586.8" y="24.2">Data 2012</text><text x="586.8" y="36">FTFP BERT 2012</text><text x="586.8" y="47.8">QGSP BERT 2012</text></g>
<g transform="translate(362.6,105.6) rotate(-90)" fill="#111" font-size="10.8">
<g fill="none" stroke="#111" stroke-width="0.8">
<path d="M3 -9.4 L0.3 -3.6 L3 2.0"/>
<path d="M13 1.6 L18.1 -9.1"/>
<path d="M24.9 -9.4 L27.6 -3.6 L24.9 2.0"/>
<path d="M41.7 1.6 L46.8 -9.1"/>
<path d="M51.6 -9.4 L48.9 -3.6 L51.6 2.0"/>
<path d="M61 1.6 L66.3 -9.1"/>
<path d="M73.6 -9.4 L76.3 -3.6 L73.6 2.0"/>
</g>
<text x="5.9" y="-0.4" font-style="italic">E</text>
<text x="18.6" y="-0.4" font-style="italic">p</text>
<text x="29.4" y="1.6" font-size="7.4">cell</text>
<text x="53.4" y="-0.4" font-style="italic">E</text>
<text x="66.6" y="-0.4" font-style="italic">p</text>
<text x="78" y="1.6" font-size="7.4">cluster</text>
</g>
<text transform="translate(363.6,190.2) rotate(-90)" font-size="11.6" fill="#111">MC/Data</text>
<text x="163" y="242.7" text-anchor="middle" font-family="Liberation Serif, serif" font-weight="bold" font-size="14.4" fill="#111">(a)</text>
<text x="515" y="242.7" text-anchor="middle" font-family="Liberation Serif, serif" font-weight="bold" font-size="14.4" fill="#111">(b)</text>
</svg>
</body></html>
